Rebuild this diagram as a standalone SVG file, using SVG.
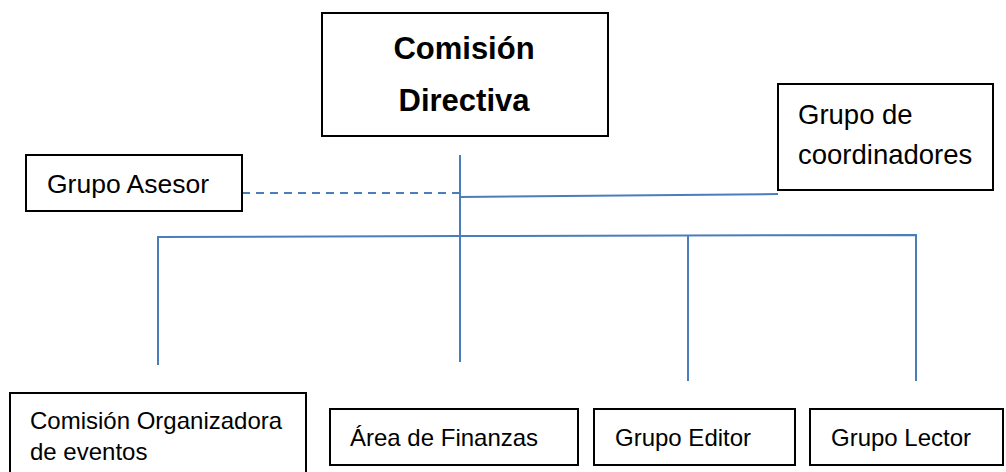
<svg xmlns="http://www.w3.org/2000/svg" width="1006" height="472" viewBox="0 0 1006 472">
  <style>
    .box { fill: #ffffff; stroke: #000000; stroke-width: 2; }
    .lbl { font-family: "Liberation Sans", Arial, sans-serif; font-size: 24px; fill: #000000; }
    .big { font-size: 26.5px; }
    .title { font-family: "Liberation Sans", Arial, sans-serif; font-size: 31px; font-weight: bold; fill: #000000; text-anchor: middle; }
    .link { fill: none; stroke: #4a7ebb; stroke-width: 2; }
    .dash { stroke-dasharray: 8 6; }
  </style>

  <!-- connectors -->
  <g id="connectors">
    <line class="link" x1="460" y1="155" x2="460" y2="362"/>
    <line class="link dash" x1="242" y1="193" x2="460" y2="193"/>
    <line class="link" x1="460" y1="197" x2="778" y2="194"/>
    <polyline class="link" points="158,365 158,237 460,236 916,235 916,381"/>
    <line class="link" x1="688" y1="235" x2="688" y2="381"/>
  </g>

  <g id="comision-directiva">
    <rect class="box" x="322" y="13" width="286" height="123"/>
    <text class="title" x="464" y="59">Comisión</text>
    <text class="title" x="464" y="111">Directiva</text>
  </g>

  <g id="grupo-asesor">
    <rect class="box" x="26" y="155" width="216" height="56"/>
    <text class="lbl big" x="47" y="193">Grupo Asesor</text>
  </g>

  <g id="grupo-coordinadores">
    <rect class="box" x="778" y="84" width="215" height="106"/>
    <text class="lbl big" x="798" y="124" style="font-size:27.5px">Grupo de</text>
    <text class="lbl big" x="798" y="164" style="font-size:27.5px">coordinadores</text>
  </g>

  <g id="comision-organizadora">
    <rect class="box" x="10" y="393" width="296" height="90"/>
    <text class="lbl" x="30" y="429">Comisión Organizadora</text>
    <text class="lbl" x="30" y="460">de eventos</text>
  </g>

  <g id="area-finanzas">
    <rect class="box" x="330" y="409" width="248" height="56"/>
    <text class="lbl" x="350" y="446">Área de Finanzas</text>
  </g>

  <g id="grupo-editor">
    <rect class="box" x="594" y="409" width="201" height="56"/>
    <text class="lbl" x="615" y="446">Grupo Editor</text>
  </g>

  <g id="grupo-lector">
    <rect class="box" x="810" y="409" width="193" height="56"/>
    <text class="lbl" x="831" y="446">Grupo Lector</text>
  </g>
</svg>
